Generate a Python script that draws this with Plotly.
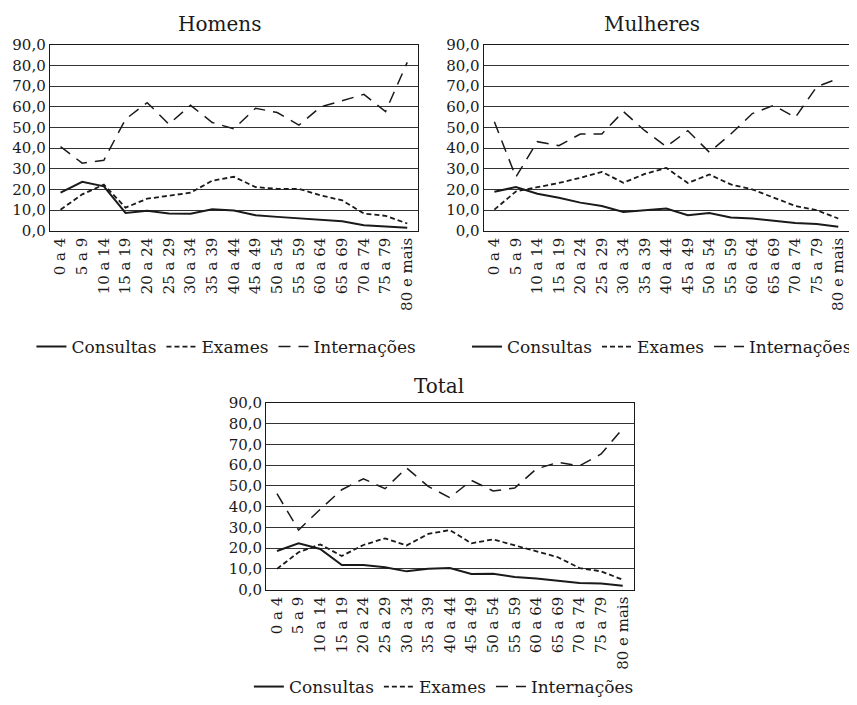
import plotly.graph_objects as go

categories = ["0 a 4", "5 a 9", "10 a 14", "15 a 19", "20 a 24", "25 a 29", "30 a 34",
              "35 a 39", "40 a 44", "45 a 49", "50 a 54", "55 a 59", "60 a 64",
              "65 a 69", "70 a 74", "75 a 79", "80 e mais"]

homens_consultas = [18.4, 23.7, 21.5, 8.6, 9.6, 8.3, 8.2, 10.4, 9.8, 7.5, 6.7, 6.1, 5.4, 4.6, 2.7, 2.2, 1.4]
homens_exames = [10.2, 17.6, 22.3, 11.2, 15.5, 17.1, 18.4, 24.2, 26.1, 21.1, 20.3, 20.3, 17.1, 14.7, 8.3, 7.2, 3.5]
homens_internacoes = [40.7, 32.7, 34.1, 54.0, 62.0, 51.6, 60.7, 52.4, 49.3, 59.3, 57.2, 51.1, 59.9, 63.1, 66.0, 57.7, 81.5]

mulheres_consultas = [18.9, 21.1, 17.9, 16.0, 13.6, 12.0, 9.1, 9.9, 10.7, 7.5, 8.6, 6.4, 5.9, 4.8, 3.7, 3.2, 1.9]
mulheres_exames = [10.2, 19.0, 21.1, 23.1, 25.6, 28.5, 23.2, 27.5, 30.4, 23.1, 27.2, 22.4, 20.0, 16.0, 12.0, 9.9, 5.9]
mulheres_internacoes = [52.7, 26.0, 43.1, 41.2, 46.8, 46.8, 57.7, 48.4, 40.7, 48.4, 38.0, 46.8, 56.7, 60.7, 54.8, 69.7, 73.7]

total_consultas = [18.6, 22.3, 19.6, 11.9, 11.9, 10.8, 8.8, 10.0, 10.4, 7.5, 7.6, 6.1, 5.4, 4.3, 3.2, 2.9, 1.9]
total_exames = [10.0, 18.0, 21.8, 16.2, 21.5, 24.7, 21.3, 26.8, 28.7, 22.3, 24.2, 21.3, 18.6, 15.6, 10.4, 8.8, 4.8]
total_internacoes = [46.2, 28.7, 38.7, 48.1, 53.4, 48.6, 58.6, 49.7, 44.3, 52.6, 47.5, 48.9, 58.1, 61.3, 59.6, 65.3, 77.6]

series_names = ["Consultas", "Exames", "Internações"]
panels = [
    ("Homens", [homens_consultas, homens_exames, homens_internacoes]),
    ("Mulheres", [mulheres_consultas, mulheres_exames, mulheres_internacoes]),
    ("Total", [total_consultas, total_exames, total_internacoes]),
]

FONT = "DejaVu Serif"
OFF = 8  # page body margin
W, H = 857 - OFF, 705 - OFF
styles = [dict(color="#1a1a1a", width=2, dash="solid"),
          dict(color="#1a1a1a", width=1.8, dash="5px,3px"),
          dict(color="#1a1a1a", width=1.5, dash="12px,8px")]

# plot areas in window pixels (left, right, top, bottom)
boxes = [(50, 421, 45, 232), (487, 855, 45, 232), (268, 638, 405, 593)]
title_pos = [(221, 24), (657, 24), (442, 388)]
legend_pos = [(228, 349), (667, 349), (447, 691)]


def px(x):
    return (x - OFF) / W


def py(y):
    return 1 - (y - OFF) / H


fig = go.Figure()
layout = dict(width=W, height=H, autosize=False, margin=dict(l=0, r=0, t=0, b=0, pad=0),
              paper_bgcolor="white", plot_bgcolor="white", separators=",.",
              font=dict(family=FONT, color="#1a1a1a"), annotations=[])

for i, (title, data) in enumerate(panels):
    sfx = "" if i == 0 else str(i + 1)
    lg = "legend" if i == 0 else "legend" + str(i + 1)
    for name, vals, st in zip(series_names, data, styles):
        fig.add_trace(go.Scatter(x=categories, y=vals, mode="lines", name=name,
                                 line=st, xaxis="x" + sfx, yaxis="y" + sfx,
                                 legend=lg, showlegend=True))
    l, r, t, b = boxes[i]
    layout["xaxis" + sfx] = dict(domain=[px(l), px(r)], anchor="y" + sfx, type="category",
                                 range=[-0.5, len(categories) - 0.5], tickangle=-90,
                                 showgrid=False, showline=True, linecolor="#1a1a1a",
                                 linewidth=1, mirror=True, ticks="", automargin=False,
                                 tickfont=dict(family=FONT, size=15, color="#1a1a1a"),
                                 fixedrange=True)
    layout["yaxis" + sfx] = dict(domain=[py(b), py(t)], anchor="x" + sfx,
                                 range=[0, 90], dtick=10, tick0=0, tickformat=".1f",
                                 showgrid=True, gridcolor="#333333", gridwidth=1,
                                 showline=True, linecolor="#1a1a1a", linewidth=1,
                                 mirror=True, ticks="", zeroline=False, automargin=False,
                                 tickfont=dict(family=FONT, size=15, color="#1a1a1a"),
                                 fixedrange=True)
    tx, ty = title_pos[i]
    layout["annotations"].append(dict(text=title, x=px(tx), y=py(ty), xref="paper",
                                      yref="paper", showarrow=False, xanchor="center",
                                      yanchor="middle",
                                      font=dict(family=FONT, size=20, color="#1a1a1a")))
    lx, ly = legend_pos[i]
    layout[lg] = dict(orientation="h", x=px(lx), y=py(ly), xanchor="center",
                      yanchor="middle", bgcolor="rgba(0,0,0,0)", itemwidth=30,
                      font=dict(family=FONT, size=17, color="#1a1a1a"),
                      itemclick=False, itemdoubleclick=False)

fig.update_layout(**layout)
fig.write_html("out.html")
